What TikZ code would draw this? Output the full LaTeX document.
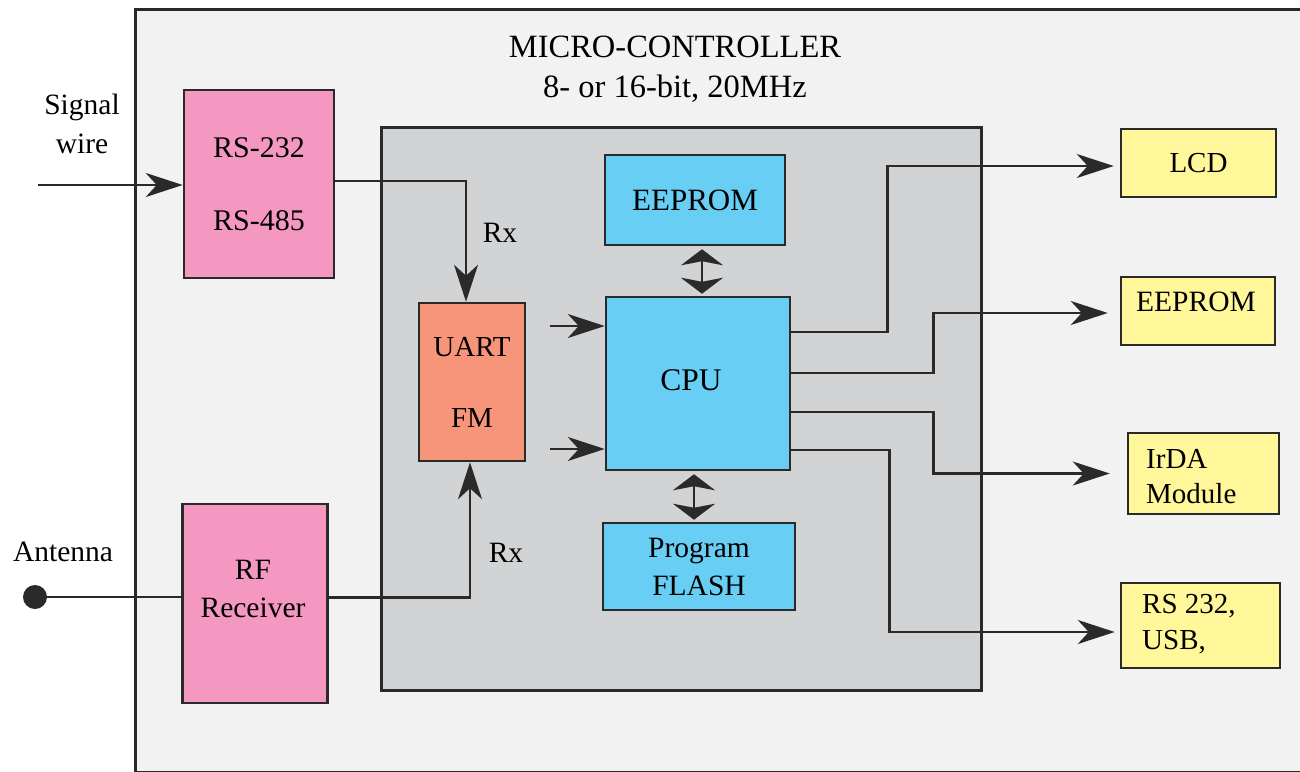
\documentclass[tikz,border=0pt]{standalone}
\usepackage{fontspec}
\setmainfont{Liberation Serif}
\usetikzlibrary{arrows.meta}
\definecolor{outerbg}{HTML}{F2F2F2}
\definecolor{innerbg}{HTML}{D1D3D4}
\definecolor{pinkbox}{HTML}{F497C1}
\definecolor{salmonbox}{HTML}{F7957A}
\definecolor{bluebox}{HTML}{68CEF4}
\definecolor{yellowbox}{HTML}{FFF799}
\definecolor{edge}{HTML}{2A2A2A}
\newcommand\labfnt{\fontsize{29.5}{35}\selectfont}
\begin{document}
\begin{tikzpicture}[x=1pt,y=-1pt,
  box/.style={draw=edge, line width=2.5pt, inner sep=0pt, font=\labfnt, align=center},
  txt/.style={inner sep=0pt, font=\labfnt, align=center},
  wire/.style={draw=edge, line width=2.5pt},
  conn/.style={wire, -{Stealth[length=37pt,width=24pt,inset=11pt]}},
  dbl/.style={wire, {Stealth[length=16pt,width=42pt,inset=4pt]}-{Stealth[length=16pt,width=42pt,inset=4pt]}}
]
\useasboundingbox (0,0) rectangle (1300,771);
\fill[white] (0,0) rectangle (1300,771);
% containers
\node[box, fill=outerbg, anchor=north west, minimum width=1200pt, minimum height=763pt] (mc) at (134,8) {};
\node[txt, font=\fontsize{32.5}{40}\selectfont] (title) at (675,69) {MICRO-CONTROLLER\\8- or 16-bit, 20MHz};
\node[box, fill=innerbg, anchor=north west, minimum width=600pt, minimum height=563pt] (core) at (380,126) {};
% external input blocks
\node[box, fill=pinkbox, minimum width=150pt, minimum height=188pt, font=\fontsize{30}{73}\selectfont] (rs) at (259,184) {RS-232\\RS-485};
\node[box, fill=pinkbox, minimum width=145pt, minimum height=199pt] (rf) at (255,603.5) {};
\node[txt, font=\fontsize{29.5}{38}\selectfont] (rft) at (253,589) {RF\\Receiver};
% core blocks
\node[box, fill=salmonbox, minimum width=106pt, minimum height=158pt, font=\fontsize{29}{71}\selectfont] (uart) at (472,382) {UART\\FM};
\node[box, fill=bluebox, minimum width=184pt, minimum height=173pt, font=\fontsize{31.5}{38}\selectfont] (cpu) at (698,383.5) {\raisebox{6pt}{\hspace*{-14pt}CPU}};
\node[box, fill=bluebox, minimum width=180pt, minimum height=90pt, font=\fontsize{31}{38}\selectfont] (ee) at (695,200) {EEPROM};
\node[box, fill=bluebox, minimum width=192pt, minimum height=87pt, font=\fontsize{29.5}{38}\selectfont] (fl) at (699,566.5) {Program\\FLASH};
% output blocks
\node[box, fill=yellowbox, minimum width=155pt, minimum height=68pt, font=\fontsize{29}{35}\selectfont] (lcd) at (1198.5,163) {LCD};
\node[box, fill=yellowbox, minimum width=154pt, minimum height=68pt] (ee2) at (1198,311) {};
\node[txt, font=\fontsize{29.5}{35}\selectfont] (ee2t) at (1196,302) {EEPROM};
\node[box, fill=yellowbox, minimum width=151pt, minimum height=81pt] (irda) at (1203.5,473.5) {};
\node[txt, anchor=west, align=left, font=\fontsize{29}{35}\selectfont] (irdat) at (1146,476.5) {IrDA\\Module};
\node[box, fill=yellowbox, minimum width=159pt, minimum height=85pt] (rs2) at (1200.5,625.5) {};
\node[txt, anchor=west, align=left, font=\fontsize{29}{36}\selectfont] (rs2t) at (1142,624) {RS 232,\\USB,};
% external labels
\node[txt, font=\fontsize{29.5}{39}\selectfont] (sig) at (82,124) {Signal\\wire};
\coordinate (sw) at (38,185);
\node[txt] (antl) at (63,552) {Antenna};
\node[circle, fill=edge, minimum size=24pt, inner sep=0pt] (ant) at (35,597) {};
\node[txt] (rx1) at (500,233) {Rx};
\node[txt] (rx2) at (506,553) {Rx};
\coordinate (in1) at (550,326);
\coordinate (in2) at (550,449);
% connectors
\draw[conn] (sw) -- (sw -| rs.west);
\draw[wire] (ant) -- (ant -| rf.west);
\draw[conn] ([shift={(0,-3)}]rs.east) -| ([shift={(-6,0)}]uart.north);
\draw[conn] ([shift={(0,-6)}]rf.east) -| ([shift={(-2,0)}]uart.south);
\draw[conn] (in1) -- (in1 -| cpu.west);
\draw[conn] (in2) -- (in2 -| cpu.west);
\draw[dbl] ([shift={(7,3)}]ee.south) -- ([shift={(4,-2)}]cpu.north);
\draw[dbl] ([shift={(-4,3)}]cpu.south) -- ([shift={(-5,-2)}]fl.north);
\draw[conn, shorten >=6pt] ([shift={(0,-51.5)}]cpu.east) -- ++(96,0) |- ([shift={(0,3)}]lcd.west);
\draw[conn, shorten >=12pt] ([shift={(0,-10.5)}]cpu.east) -- ++(142,0) |- ([shift={(0,2)}]ee2.west);
\draw[conn, shorten >=17pt] ([shift={(0,28.5)}]cpu.east) -- ++(142,0) |- (irda.west);
\draw[conn, shorten >=5pt] ([shift={(0,66.5)}]cpu.east) -- ++(98,0) |- ([shift={(0,6.5)}]rs2.west);
\end{tikzpicture}
\end{document}
